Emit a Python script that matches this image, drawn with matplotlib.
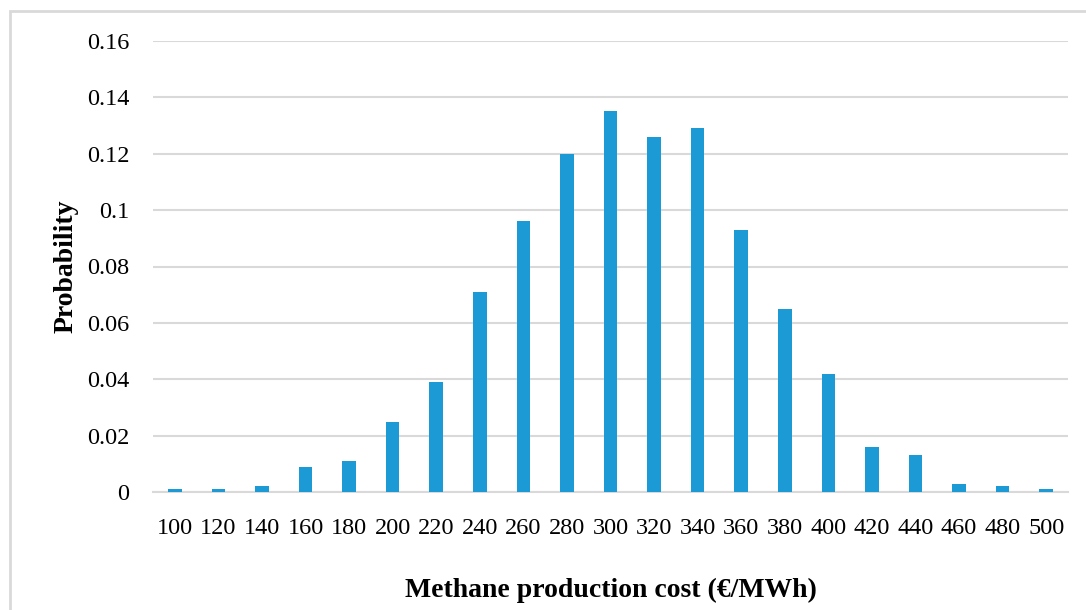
import numpy as np
import matplotlib.pyplot as plt
from matplotlib.patches import Rectangle

# cost bins (EUR/MWh) and probability of each bin
cost = [100, 120, 140, 160, 180, 200, 220, 240, 260, 280, 300,
        320, 340, 360, 380, 400, 420, 440, 460, 480, 500]
prob = [0.001, 0.001, 0.002, 0.009, 0.011, 0.025, 0.039, 0.071, 0.096, 0.120, 0.135,
        0.126, 0.129, 0.093, 0.065, 0.042, 0.016, 0.013, 0.003, 0.002, 0.001]
yticks = [0, 0.02, 0.04, 0.06, 0.08, 0.1, 0.12, 0.14, 0.16]
ylabels = ['0', '0.02', '0.04', '0.06', '0.08', '0.1', '0.12', '0.14', '0.16']

plt.rcParams['font.family'] = ['Liberation Serif', 'DejaVu Serif']

W, H = 1086, 610
fig = plt.figure(figsize=(W / 100, H / 100), dpi=100)
ax = fig.add_axes([153 / W, 1 - 492 / H, (1068 - 153) / W, (492 - 41) / H])

# chart frame (top and left edges visible)
fig.patches.append(Rectangle((9.5 / W, -0.1), 1.2, 1 - 10.5 / H + 0.1,
                             transform=fig.transFigure, fill=False,
                             edgecolor='#D9D9D9', linewidth=2))

x = np.arange(len(cost))
ax.bar(x, prob, width=0.31, color='#1C9AD6', zorder=3)

ax.set_xlim(-0.5, len(cost) - 0.5)
ax.set_ylim(0, 0.16)
ax.set_yticks(yticks)
ax.set_yticklabels(ylabels)
ax.set_xticks(x)
ax.set_xticklabels([str(c) for c in cost])
ax.tick_params(axis='both', length=0, labelsize=17.5, colors='black')
ax.tick_params(axis='x', pad=19)
ax.tick_params(axis='y', pad=17)

ax.grid(axis='y', color='#D9D9D9', linewidth=1.5, zorder=0)
for s in ['top', 'right', 'left']:
    ax.spines[s].set_visible(False)
ax.spines['bottom'].set_color('#D9D9D9')
ax.spines['bottom'].set_linewidth(1.5)

ax.set_ylabel('Probability', fontsize=20, fontweight='bold', labelpad=6)
ax.set_xlabel('Methane production cost (€/MWh)', fontsize=20, fontweight='bold', labelpad=28)

fig.savefig('out.png', dpi=100)
